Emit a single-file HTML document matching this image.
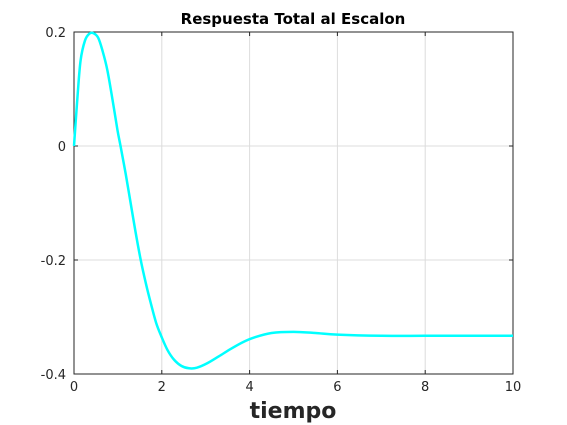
<!DOCTYPE html>
<html><head><meta charset="utf-8"><style>
body{margin:0;background:#fff;}
svg{display:block;font-family:"DejaVu Sans","Liberation Sans",sans-serif;}
</style></head><body>
<svg width="567" height="425">
<rect x="0" y="0" width="567" height="425" fill="#fff"/>
<g id="grid"></g>
<rect x="74" y="32" width="439" height="342" fill="none" stroke="#262626" stroke-width="1"/>
<g id="ticks"></g>
<path id="curve" fill="none" stroke="#00ffff" stroke-width="2.5" stroke-linejoin="round"/>
<text x="293" y="24" text-anchor="middle" font-size="15" font-weight="bold" fill="#000">Respuesta Total al Escalon</text>
<text x="293" y="418" text-anchor="middle" font-size="22" font-weight="bold" fill="#262626">tiempo</text>
</svg>
<script>
const tVals=[0,0.08,0.15,0.25,0.35,0.44,0.55,0.65,0.76,0.88,0.99,1.06,1.18,1.29,1.4,1.52,1.64,1.75,1.87,1.99,2.13,2.28,2.45,2.62,2.8,3.04,3.3,3.57,3.85,4.1,4.5,5,5.5,6,7,8,9,10];
const yVals=[0,0.087,0.15,0.185,0.197,0.198,0.19,0.167,0.133,0.08,0.028,0,-0.05,-0.10,-0.15,-0.2,-0.242,-0.276,-0.31,-0.334,-0.358,-0.375,-0.386,-0.39,-0.389,-0.381,-0.369,-0.356,-0.344,-0.336,-0.328,-0.326,-0.328,-0.331,-0.333,-0.333,-0.333,-0.333];
const xTicks=[0,2,4,6,8,10];
const yTicks=[-0.4,-0.2,0,0.2];
const yTickLabels=["-0.4","-0.2","0","0.2"];
const X0=74,X1=513,Y0=374,Y1=32;
const sx=t=>X0+(t-0)/(10-0)*(X1-X0);
const sy=v=>Y0-(v+0.4)/(0.6)*(Y0-Y1);
const NS="http://www.w3.org/2000/svg";
const grid=document.getElementById('grid'),ticks=document.getElementById('ticks');
function mk(tag,attrs,parent){const e=document.createElementNS(NS,tag);for(const k in attrs)e.setAttribute(k,attrs[k]);parent.appendChild(e);return e;}
xTicks.forEach(t=>{const x=sx(t);
 const g=mk('line',{x1:x,x2:x,y1:Y1,y2:Y0,stroke:'#dcdcdc','stroke-width':1},grid);
 
 
 mk('line',{x1:x,x2:x,y1:Y0,y2:Y0-4,stroke:'#262626'},ticks);
 mk('line',{x1:x,x2:x,y1:Y1,y2:Y1+4,stroke:'#262626'},ticks);
 const tx=mk('text',{x:x,y:Y0+17,'text-anchor':'middle','font-size':13,fill:'#262626'},ticks);tx.textContent=String(t);
 
 
});
yTicks.forEach((v,i)=>{const y=sy(v);
 const g=mk('line',{x1:X0,x2:X1,y1:y,y2:y,stroke:'#dcdcdc','stroke-width':1},grid);
 
 
 mk('line',{x1:X0,x2:X0+4,y1:y,y2:y,stroke:'#262626'},ticks);
 mk('line',{x1:X1,x2:X1-4,y1:y,y2:y,stroke:'#262626'},ticks);
 const tx=mk('text',{x:X0-8,y:y+5,'text-anchor':'end','font-size':13,fill:'#262626'},ticks);tx.textContent=yTickLabels[i];
 
 
});
const P=tVals.map((t,i)=>[sx(t),sy(yVals[i])]);
let d='M'+P[0][0]+','+P[0][1];
for(let i=0;i<P.length-1;i++){const p0=P[i-1]||P[i],p1=P[i],p2=P[i+1],p3=P[i+2]||P[i+1];
 const c1=[p1[0]+(p2[0]-p0[0])/6,p1[1]+(p2[1]-p0[1])/6],c2=[p2[0]-(p3[0]-p1[0])/6,p2[1]-(p3[1]-p1[1])/6];
 d+=` C${c1[0]},${c1[1]} ${c2[0]},${c2[1]} ${p2[0]},${p2[1]}`;}
document.getElementById('curve').setAttribute('d',d);
</script>
</body></html>
